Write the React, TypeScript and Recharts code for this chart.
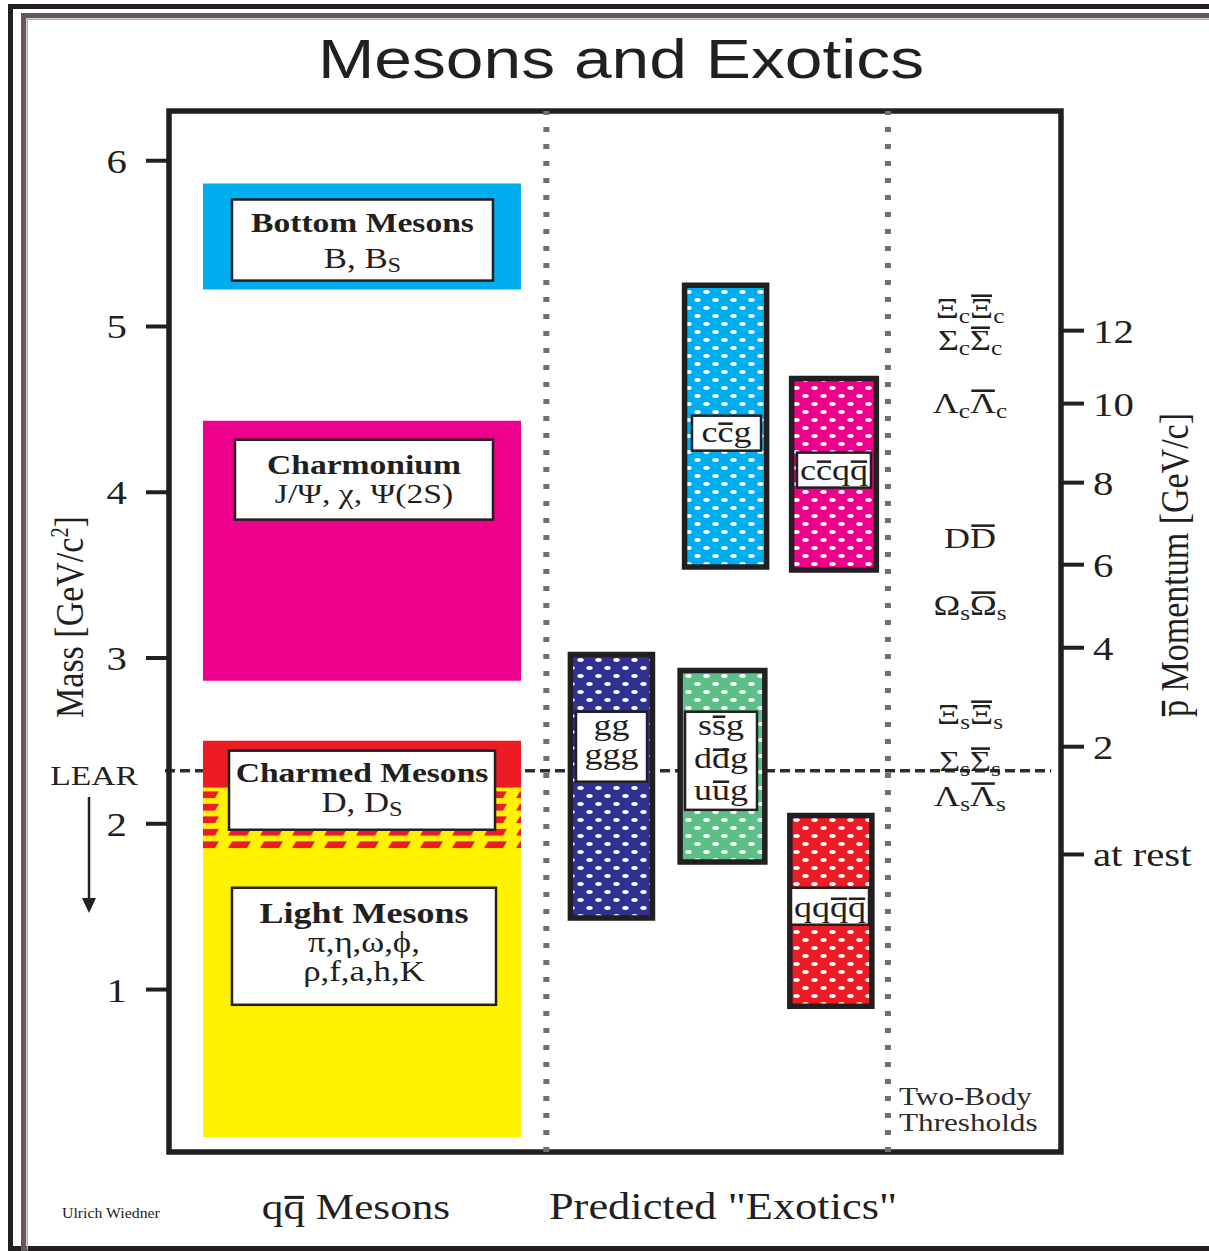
import React, { useLayoutEffect, useRef, useState } from 'react';
import { ComposedChart, XAxis, YAxis, ReferenceArea, ReferenceLine, Scatter } from 'recharts';

const INK = '#231f20';
const SERIF = '"Liberation Serif", "Times New Roman", serif';
const SANS = '"Liberation Sans", Arial, sans-serif';
const K = 1.2;
const CYAN = '#00aeef';
const MAGENTA = '#ec008c';
const RED = '#ed1c24';
const YELLOW = '#fff200';
const NAVY = '#2e3192';
const GREEN = '#5cbf88';
const DOTGRAY = '#7a6b67';

// Markup used in the labels: "~x~" = overlined (antiparticle), "_x_" = subscript, "^x^" = superscript

// ---------------- data ----------------
const massTicks = [1, 2, 3, 4, 5, 6];
const momentumTickLabels = ['12', '10', '8', '6', '4', '2', 'at rest'];
const momentumTickMass = [4.975, 4.535, 4.058, 3.563, 3.062, 2.465, 1.815];

const mesonBands = ['Bottom Mesons', 'Charmonium', 'Charmed Mesons', 'Light Mesons'];
const mesonBandLow = [5.223, 2.863, 1.843, 0.11];
const mesonBandHigh = [5.862, 4.432, 2.501, 2.218];

const exoticStates = ['gg / ggg', 's~s~g / d~d~g / u~u~g', 'c~c~g', 'c~c~q~q~', 'qq~q~~q~'];
const exoticLow = [1.431, 1.769, 3.549, 3.531, 0.9];
const exoticHigh = [3.022, 2.925, 5.249, 4.687, 2.05];

const thresholdLabels = [
  'Ξ_c_~Ξ~_c_',
  'Σ_c_~Σ~_c_',
  'Λ_c_~Λ~_c_',
  'D~D~',
  'Ω_s_~Ω~_s_',
  'Ξ_s_~Ξ~_s_',
  'Σ_s_~Σ~_s_',
  'Λ_s_~Λ~_s_',
];
const thresholdMass = [5.112, 4.919, 4.539, 3.725, 3.321, 2.663, 2.38, 2.169];

const learMass = 2.32;

// ---------------- layout (data units of the axes) ----------------
const X_DOMAIN: [number, number] = [0, 100];
const Y_DOMAIN: [number, number] = [0.02, 6.3];
const mesonColumn = [3.81, 39.46];
const exoticColumns = [
  [45.0, 54.2],
  [57.3, 66.8],
  [57.8, 67.0],
  [69.8, 79.3],
  [69.6, 78.8],
];
const columnBreaks = [42.3, 80.6];
const thresholdX = 89.8;
const mesonFills = [CYAN, MAGENTA, RED, YELLOW];
const exoticPatternIds = ['dotNavy', 'dotGreen', 'dotCyan', 'dotMagenta', 'dotRed'];

type Line = { text: string; size: number; bold?: boolean; dy: number };

const mesonLabelX = [
  [7.06, 36.32],
  [7.4, 36.32],
  [6.73, 36.55],
  [7.06, 36.66],
];
const mesonLabelY = [
  [5.277, 5.766],
  [3.835, 4.317],
  [1.964, 2.441],
  [0.908, 1.614],
];
const mesonLabelLines: Line[][] = [
  [
    { text: 'Bottom Mesons', size: 28, bold: true, dy: 32 },
    { text: 'B, B_S_', size: 29, dy: 68 },
  ],
  [
    { text: 'Charmonium', size: 28, bold: true, dy: 34 },
    { text: 'J/Ψ, χ, Ψ(2S)', size: 28, dy: 63 },
  ],
  [
    { text: 'Charmed Mesons', size: 28, bold: true, dy: 31 },
    { text: 'D, D_S_', size: 29, dy: 61 },
  ],
  [
    { text: 'Light Mesons', size: 30, bold: true, dy: 35 },
    { text: 'π,η,ω,ϕ,', size: 29, dy: 64 },
    { text: 'ρ,f,a,h,K', size: 29, dy: 93 },
  ],
];

const exoticLabelX = [
  [45.63, 53.59],
  [57.85, 65.92],
  [58.63, 66.37],
  [70.4, 78.7],
  [69.73, 78.48],
];
const exoticLabelY = [
  [2.254, 2.676],
  [2.084, 2.676],
  [4.251, 4.462],
  [4.028, 4.239],
  [1.391, 1.614],
];
const exoticLabelLines: Line[][] = [
  [
    { text: 'gg', size: 30, dy: 23 },
    { text: 'ggg', size: 30, dy: 52 },
  ],
  [
    { text: 's~s~g', size: 30, dy: 23 },
    { text: 'd~d~g', size: 30, dy: 56 },
    { text: 'u~u~g', size: 30, dy: 88 },
  ],
  [{ text: 'c~c~g', size: 30, dy: 26 }],
  [{ text: 'c~c~q~q~', size: 30, dy: 27 }],
  [{ text: 'qq~q~~q~', size: 30, dy: 29 }],
];

// ---------------- text helpers ----------------
function rich(s: string, size: number) {
  const parts = s.split(/(_[^_]+_|\^[^^]+\^|~[^~]+~)/).filter((p) => p.length > 0);
  let shift = 0;
  return parts.map((p, i) => {
    let target = 0;
    let txt = p;
    let fs: number | undefined;
    let over: string | undefined;
    const wrapped = (c: string) => p.length > 2 && p[0] === c && p[p.length - 1] === c;
    if (wrapped('_')) {
      target = size * 0.16;
      txt = p.slice(1, -1);
      fs = size * 0.7;
    } else if (wrapped('^')) {
      target = -size * 0.38;
      txt = p.slice(1, -1);
      fs = size * 0.6;
    } else if (wrapped('~')) {
      txt = p.slice(1, -1);
      over = txt === txt.toLowerCase() ? 'L' : 'U';
    }
    const dy = target - shift;
    shift = target;
    return (
      <tspan key={i} dy={dy !== 0 ? dy : undefined} fontSize={fs} data-over={over}>
        {txt}
      </tspan>
    );
  });
}

type Bar = { x1: number; x2: number; y: number };

function Txt(props: {
  x: number;
  y: number;
  size: number;
  text: string;
  weight?: number;
  anchor?: 'start' | 'middle' | 'end';
  family?: string;
  sx?: number;
  rotate?: number;
  fill?: string;
}) {
  const { x, y, size, text, weight = 400, anchor = 'middle', family = SERIF, sx = K, rotate = 0, fill = INK } = props;
  const ref = useRef<SVGTextElement>(null);
  const [bars, setBars] = useState<Bar[]>([]);
  useLayoutEffect(() => {
    const el = ref.current;
    if (!el || text.indexOf('~') < 0) return;
    const out: Bar[] = [];
    el.querySelectorAll('tspan[data-over]').forEach((node) => {
      const sp = node as SVGTSpanElement;
      const n = sp.getNumberOfChars();
      if (!n) return;
      const a = sp.getStartPositionOfChar(0);
      const b = sp.getEndPositionOfChar(n - 1);
      const upper = sp.getAttribute('data-over') === 'U';
      const w = b.x - a.x;
      out.push({ x1: a.x + w * 0.05, x2: b.x - w * 0.05, y: a.y - size * (upper ? 0.74 : 0.6) });
    });
    setBars(out);
  }, [text, size, x, y, weight, family]);
  const tf = `translate(${x},${y}) scale(${sx},1)` + (rotate ? ` rotate(${rotate})` : '');
  return (
    <g transform={tf}>
      <text ref={ref} fontSize={size} fontWeight={weight} fontFamily={family} textAnchor={anchor} fill={fill}>
        {rich(text, size)}
      </text>
      {bars.map((b, i) => (
        <line key={i} x1={b.x1} x2={b.x2} y1={b.y} y2={b.y} stroke={fill} strokeWidth={size * 0.085} />
      ))}
    </g>
  );
}

const makeLabelShape = (lines: Line[]) => (p: any) => {
  const { x, y, width, height } = p;
  return (
    <g>
      <rect x={x} y={y} width={width} height={height} fill="#fff" stroke={INK} strokeWidth={2.5} />
      {lines.map((l, i) => (
        <Txt key={i} x={x + width / 2} y={y + l.dy} size={l.size} weight={l.bold ? 700 : 400} text={l.text} />
      ))}
    </g>
  );
};

const LeftTick = (p: any) => <Txt x={p.x} y={p.y + 12} size={34} anchor="end" text={String(p.payload.value)} />;

const RightTick = (p: any) => {
  const idx = momentumTickMass.indexOf(p.payload.value);
  return <Txt x={p.x} y={p.y + 12} size={34} anchor="start" text={momentumTickLabels[idx] ?? ''} />;
};

const dotPattern = (id: string, color: string) => (
  <pattern id={id} key={id} width={18} height={16} patternUnits="userSpaceOnUse">
    <rect width={18} height={16} fill={color} />
    <ellipse cx={4.5} cy={4} rx={3.2} ry={1.9} fill="#fff" />
    <ellipse cx={13.5} cy={12} rx={3.2} ry={1.9} fill="#fff" />
  </pattern>
);

const thresholdData = thresholdMass.map((m, i) => ({ x: thresholdX, y: m, label: thresholdLabels[i] }));

export default function App() {
  const patternColors = [NAVY, GREEN, CYAN, MAGENTA, RED];
  return (
    <div style={{ position: 'absolute', left: 0, top: 0, width: 1209, height: 1251, background: '#fff', overflow: 'hidden' }}>
      <ComposedChart
        width={1209}
        height={1251}
        margin={{ top: 111, right: 68, bottom: 99, left: 89 }}
        data={thresholdData}
      >
        <defs>
          {exoticPatternIds.map((id, i) => dotPattern(id, patternColors[i]))}
          <pattern id="stripes" width={32} height={12.5} y={788.5} patternUnits="userSpaceOnUse">
            <rect width={32} height={12.5} fill={YELLOW} />
            <polygon points="8,3 27,3 23,9.5 4,9.5" fill={RED} />
          </pattern>
        </defs>
        <XAxis xAxisId="x" type="number" dataKey="x" domain={X_DOMAIN} hide allowDataOverflow />
        <YAxis
          yAxisId="m"
          orientation="left"
          type="number"
          domain={Y_DOMAIN}
          ticks={massTicks}
          interval={0}
          allowDataOverflow
          width={80}
          axisLine={false}
          tickSize={23}
          tickMargin={19}
          tickLine={{ stroke: INK, strokeWidth: 4 }}
          tick={LeftTick}
        />
        <YAxis
          yAxisId="p"
          orientation="right"
          type="number"
          domain={Y_DOMAIN}
          ticks={momentumTickMass}
          interval={0}
          allowDataOverflow
          width={80}
          axisLine={false}
          tickSize={23}
          tickMargin={9}
          tickLine={{ stroke: INK, strokeWidth: 4 }}
          tick={RightTick}
        />

        {/* LEAR line (beneath the bands) */}
        <ReferenceArea
          xAxisId="x"
          yAxisId="m"
          x1={-0.45}
          x2={98.9}
          y1={learMass - 0.005}
          y2={learMass + 0.005}
          ifOverflow="visible"
          shape={(p: any) => (
            <line
              x1={p.x}
              x2={p.x + p.width}
              y1={p.y + p.height / 2}
              y2={p.y + p.height / 2}
              stroke="#2f2d2d"
              strokeWidth={3.5}
              strokeDasharray="10 5"
            />
          )}
        />

        {/* qq̄ meson bands */}
        {mesonBands.map((name, i) => (
          <ReferenceArea
            key={name}
            xAxisId="x"
            yAxisId="m"
            x1={mesonColumn[0]}
            x2={mesonColumn[1]}
            y1={mesonBandLow[i]}
            y2={mesonBandHigh[i]}
            fill={mesonFills[i]}
            fillOpacity={1}
            stroke="none"
          />
        ))}
        <ReferenceArea
          xAxisId="x"
          yAxisId="m"
          x1={mesonColumn[0]}
          x2={mesonColumn[1]}
          y1={mesonBandLow[2]}
          y2={mesonBandHigh[3]}
          fill="url(#stripes)"
          fillOpacity={1}
          stroke="none"
        />

        {/* exotic boxes */}
        {exoticStates.map((name, i) => (
          <ReferenceArea
            key={name}
            xAxisId="x"
            yAxisId="m"
            x1={exoticColumns[i][0]}
            x2={exoticColumns[i][1]}
            y1={exoticLow[i]}
            y2={exoticHigh[i]}
            fill={`url(#${exoticPatternIds[i]})`}
            fillOpacity={1}
            stroke={INK}
            strokeWidth={5.5}
          />
        ))}

        {/* label boxes */}
        {mesonBands.map((name, i) => (
          <ReferenceArea
            key={'ml' + name}
            xAxisId="x"
            yAxisId="m"
            x1={mesonLabelX[i][0]}
            x2={mesonLabelX[i][1]}
            y1={mesonLabelY[i][0]}
            y2={mesonLabelY[i][1]}
            shape={makeLabelShape(mesonLabelLines[i])}
          />
        ))}
        {exoticStates.map((name, i) => (
          <ReferenceArea
            key={'el' + name}
            xAxisId="x"
            yAxisId="m"
            x1={exoticLabelX[i][0]}
            x2={exoticLabelX[i][1]}
            y1={exoticLabelY[i][0]}
            y2={exoticLabelY[i][1]}
            shape={makeLabelShape(exoticLabelLines[i])}
          />
        ))}

        {/* plot frame */}
        <ReferenceArea
          xAxisId="x"
          yAxisId="m"
          x1={X_DOMAIN[0]}
          x2={X_DOMAIN[1]}
          y1={Y_DOMAIN[0]}
          y2={Y_DOMAIN[1]}
          fill="none"
          stroke={INK}
          strokeWidth={5.5}
        />

        {columnBreaks.map((xb) => (
          <ReferenceLine
            key={xb}
            xAxisId="x"
            yAxisId="m"
            x={xb}
            stroke={DOTGRAY}
            strokeWidth={6}
            strokeDasharray="5 12"
          />
        ))}

        <Scatter
          xAxisId="x"
          yAxisId="m"
          data={thresholdData}
          dataKey="y"
          isAnimationActive={false}
          shape={(p: any) => <Txt x={p.cx} y={p.cy + 10} size={30} text={p.payload.label} />}
        />
      </ComposedChart>

      <svg
        width={1209}
        height={1251}
        style={{ position: 'absolute', left: 0, top: 0, pointerEvents: 'none' }}
      >
        {/* page frame */}
        <rect x={8} y={4} width={5} height={1247} fill={INK} />
        <rect x={8} y={4} width={1201} height={5} fill={INK} />
        <rect x={8} y={1246} width={1201} height={5} fill={INK} />
        <rect x={21} y={13} width={5} height={1238} fill="#655957" />
        <rect x={21} y={13} width={1188} height={5} fill="#655957" />
        <rect x={26.5} y={18.5} width={1.5} height={1232} fill="#b3aaa8" />
        <rect x={26.5} y={18.5} width={1183} height={1.5} fill="#b3aaa8" />

        <Txt x={621} y={78} size={56} family={SANS} sx={1.21} text="Mesons and Exotics" />

        <Txt x={83} y={617} size={34} rotate={-90} text="Mass [GeV/c^2^]" />
        <Txt x={1188} y={565} size={34} rotate={-90} text="~p~ Momentum [GeV/c]" />

        <Txt x={94} y={785} size={28} text="LEAR" />
        <line x1={89} y1={797} x2={89} y2={900} stroke={INK} strokeWidth={2.5} />
        <polygon points="82,898 96,898 89,913" fill={INK} />

        <Txt x={899} y={1105} size={26} anchor="start" fill="#2c2a2a" text="Two-Body" />
        <Txt x={899} y={1131} size={26} anchor="start" fill="#2c2a2a" text="Thresholds" />

        <Txt x={356} y={1219} size={36} text="q~q~ Mesons" />
        <Txt x={723} y={1219} size={37} text={'Predicted "Exotics"'} />
        <Txt x={62} y={1218} size={14} anchor="start" sx={1.13} text="Ulrich Wiedner" />
      </svg>
    </div>
  );
}
